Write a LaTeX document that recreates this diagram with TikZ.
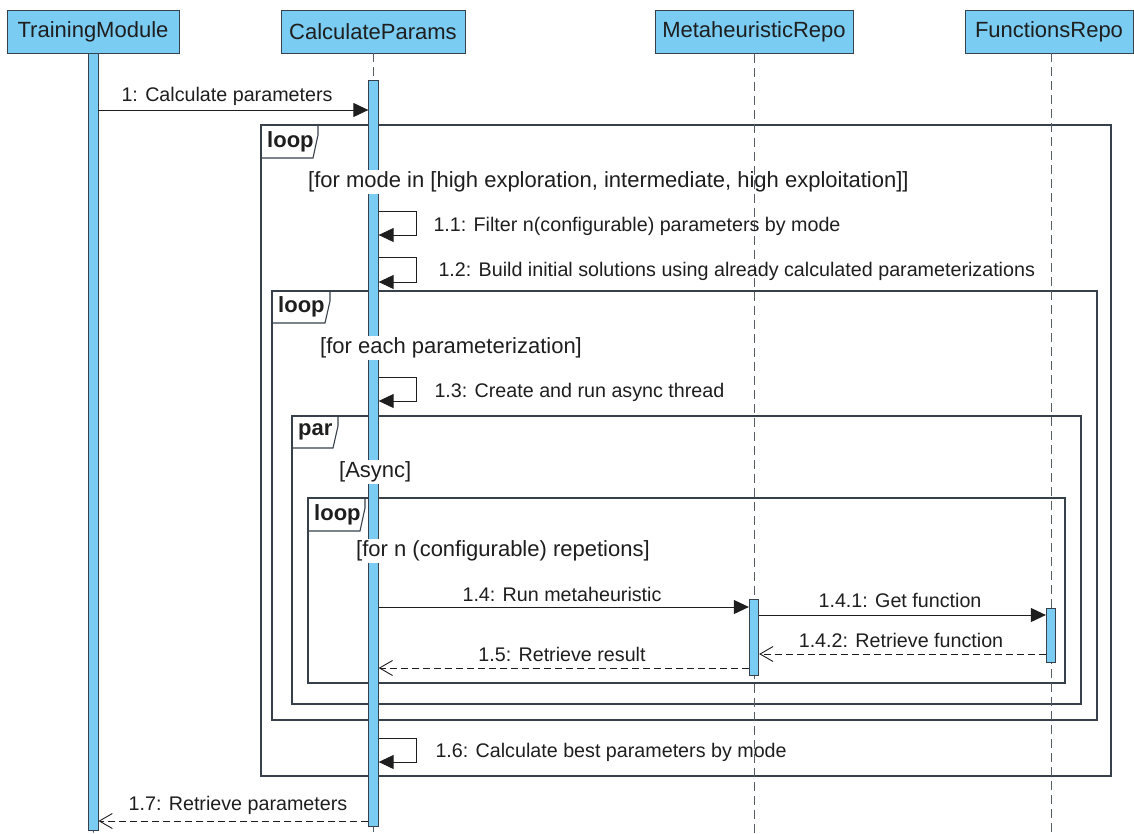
\documentclass[tikz,border=0pt]{standalone}
\usepackage{fontspec}
\setmainfont{Liberation Sans}
\usetikzlibrary{arrows.meta}
\definecolor{actfill}{RGB}{122,204,242}
\definecolor{edge}{RGB}{55,65,75}
\definecolor{ink}{RGB}{30,30,30}

% combined fragment tag: name, x0, y0, x1, y1, keyword
\newcommand{\fragtag}[6]{%
  \draw[frame] (#2,#3) -- (#4,#3) -- (#4,#3+10) -- (#4-5,#5) -- (#2,#5);
  \node[tag] (#1) at (#2+4,{(#3+#5)/2}) {#6};
}

\begin{document}
\begin{tikzpicture}[x=1pt,y=-1pt,
  head/.style={draw=edge, fill=actfill, line width=1pt, minimum height=43pt,
    inner sep=0pt, font=\fontsize{22}{26}\selectfont, text=ink},
  actbar/.style={draw=edge, fill=actfill, line width=0.8pt, minimum width=9.5pt,
    inner sep=0pt, anchor=north},
  life/.style={draw=edge!85, line width=0.9pt, dash pattern=on 9pt off 5pt},
  frame/.style={draw=edge, line width=1.1pt},
  tag/.style={font=\bfseries\fontsize{22}{26}\selectfont, text=ink, anchor=west, inner sep=2pt},
  guard/.style={font=\fontsize{22}{26}\selectfont, text=ink, anchor=west,
    fill=white, inner sep=2pt},
  lbl/.style={font=\fontsize{19.7}{23}\selectfont, text=ink},
  call/.style={draw=ink, line width=0.9pt, -{Triangle[length=15pt,width=14pt]}},
  reply/.style={draw=ink, line width=0.9pt, dash pattern=on 7pt off 4pt,
    -{Straight Barb[length=13pt,width=15pt,line width=0.9pt]}},
]
\useasboundingbox (0,0) rectangle (1134,833);

% lifeline heads
\node[head, minimum width=172pt] (tm) at (93,31.5) {TrainingModule};
\node[head, minimum width=184pt] (cp) at (373,31.5) {CalculateParams};
\node[head, minimum width=198pt] (mr) at (754,31.5) {MetaheuristicRepo};
\node[head, minimum width=168pt] (fr) at (1049,31.5) {FunctionsRepo};

% combined fragments
\draw[frame] (261,125) rectangle (1111,776);
\draw[frame] (272,291) rectangle (1097,720);
\draw[frame] (292,416) rectangle (1081,704);
\draw[frame] (308,498) rectangle (1065,683);
\fragtag{t1}{261}{125}{318}{158}{loop}
\fragtag{t2}{272}{291}{330}{323}{loop}
\fragtag{t3}{292}{416}{338}{448}{par}
\fragtag{t4}{308}{498}{365}{531}{loop}

% lifelines and activations of the two left participants
\draw[life] (tm.south) -- (93.3,833);
\draw[life] (373.5,53) -- (373.5,833);
\node[actbar, minimum height=777pt] (tmbar) at (93.3,53) {};
\node[actbar, minimum height=746pt] (cpbar) at (373.5,80) {};

% guards
\node[guard] (g1) at (306,182) {[for mode in [high exploration, intermediate, high exploitation]]};
\node[guard] (g2) at (318,348) {[for each parameterization]};
\node[guard] (g3) at (337,472) {[Async]};
\node[guard] (g4) at (354,551) {[for n (configurable) repetions]};

% lifelines and activations of the repositories
\coordinate (mrend) at (754,833);
\coordinate (frtop) at (1051,53);
\coordinate (frend) at (1051,833);
\draw[life] (mr.south) -- (mrend);
\draw[life] (frtop) -- (frend);
\node[actbar, minimum height=76pt] (mrbar) at (754,599) {};
\node[actbar, minimum height=54pt] (frbar) at (1051,608) {};

% message 1
\coordinate (y1) at (0,110);
\draw[call] (tmbar.east |- y1) -- (cpbar.west |- y1);
\node[lbl, anchor=west] (l1) at (118,96) {1: Calculate parameters};

% self messages
\coordinate (s1a) at (416,211); \coordinate (s1b) at (416,235);
\draw[call] (cpbar.east |- s1a) -- (s1a) -- (s1b) -- (cpbar.east |- s1b);
\node[lbl, anchor=west] (l11) at (430,226) {1.1: Filter n(configurable) parameters by mode};

\coordinate (s2a) at (416,257); \coordinate (s2b) at (416,282);
\draw[call] (cpbar.east |- s2a) -- (s2a) -- (s2b) -- (cpbar.east |- s2b);
\node[lbl, anchor=west] (l12) at (435,271) {1.2: Build initial solutions using already calculated parameterizations};

\coordinate (s3a) at (416,377); \coordinate (s3b) at (416,401);
\draw[call] (cpbar.east |- s3a) -- (s3a) -- (s3b) -- (cpbar.east |- s3b);
\node[lbl, anchor=west] (l13) at (431,392) {1.3: Create and run async thread};

\coordinate (s6a) at (416,738); \coordinate (s6b) at (416,762);
\draw[call] (cpbar.east |- s6a) -- (s6a) -- (s6b) -- (cpbar.east |- s6b);
\node[lbl, anchor=west] (l16) at (432,752) {1.6: Calculate best parameters by mode};

% calls and replies between participants
\coordinate (y14) at (0,607);
\draw[call] (cpbar.east |- y14) -- (mrbar.west |- y14);
\node[lbl] (l14) at (562,594) {1.4: Run metaheuristic};

\coordinate (y141) at (0,615);
\draw[call] (mrbar.east |- y141) -- (frbar.west |- y141);
\node[lbl] (l141) at (900,600) {1.4.1: Get function};

\coordinate (y142) at (0,654);
\draw[reply] (frbar.west |- y142) -- (mrbar.east |- y142);
\node[lbl] (l142) at (901,640) {1.4.2: Retrieve function};

\coordinate (y15) at (0,668);
\draw[reply] (mrbar.west |- y15) -- (cpbar.east |- y15);
\node[lbl] (l15) at (562,654) {1.5: Retrieve result};

\coordinate (y17) at (0,821);
\draw[reply] (cpbar.west |- y17) -- (tmbar.east |- y17);
\node[lbl] (l17) at (238,805) {1.7: Retrieve parameters};

\end{tikzpicture}
\end{document}
